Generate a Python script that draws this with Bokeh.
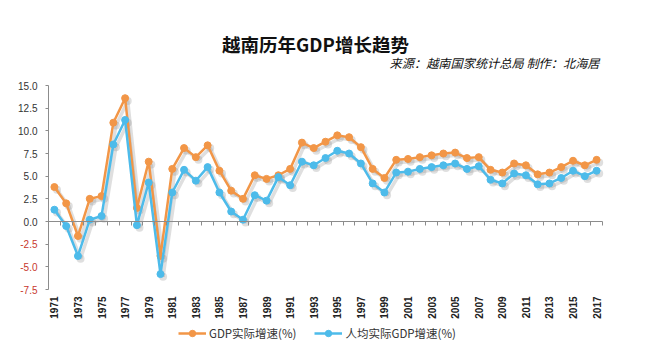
import math
from bokeh.plotting import figure
from bokeh.models import (FixedTicker, Legend, LegendItem, Label,
                          ColumnDataSource, Range1d, CustomJSTickFormatter)
from bokeh.core.properties import value
from bokeh.transform import dodge
from bokeh.embed import file_html
from bokeh.resources import INLINE

# ---------------- data ----------------
years = list(range(1971, 2018))
gdp_growth = [3.8, 2.0, -1.6, 2.5, 2.8, 10.9, 13.6, 1.5, 6.6, -3.8,
              5.8, 8.1, 7.1, 8.4, 5.6, 3.4, 2.5, 5.1, 4.7, 5.1,
              5.8, 8.7, 8.1, 8.8, 9.5, 9.3, 8.2, 5.8, 4.8, 6.8,
              6.9, 7.1, 7.3, 7.5, 7.6, 7.0, 7.1, 5.7, 5.4, 6.4,
              6.2, 5.2, 5.4, 6.0, 6.7, 6.2, 6.8]
pc_growth = [1.3, -0.5, -3.8, 0.2, 0.6, 8.5, 11.2, -0.4, 4.3, -5.8,
             3.2, 5.7, 4.5, 6.0, 3.2, 1.1, 0.2, 2.9, 2.3, 4.9,
             4.0, 6.6, 6.2, 7.0, 7.8, 7.5, 6.4, 4.2, 3.2, 5.4,
             5.5, 5.8, 6.0, 6.2, 6.4, 5.8, 6.1, 4.6, 4.2, 5.3,
             5.1, 4.1, 4.2, 4.8, 5.6, 5.0, 5.6]
y_ticks = [-7.5, -5.0, -2.5, 0.0, 2.5, 5.0, 7.5, 10.0, 12.5, 15.0]
x_label_years = years[::2]

title_text = "越南历年GDP增长趋势"
subtitle_text = "来源：越南国家统计总局 制作：北海居"
series_names = ["GDP实际增速(%)", "人均实际GDP增速(%)"]

# ---------------- layout (pixels) ----------------
W, H = 661, 356
FL, FR, FT, FB = 10, W, 0, H - 10          # frame edges on canvas
PL, PR, PT, PB = 48, 602, 85, 289          # plotting area edges on canvas

ORANGE = "#F29647"
BLUE = "#4DBBEA"
AXIS_GRAY = "#8c8c8c"
FONT_CJK = "Noto Sans CJK SC"
FONT_NUM = "Liberation Sans"

x_lo, x_hi = years[0] - 0.5, years[-1] + 0.5
y_lo, y_hi = min(y_ticks), max(y_ticks)
sx = (PR - PL) / (x_hi - x_lo)
sy = (PB - PT) / (y_hi - y_lo)


def data_x(px):
    return x_lo + (px - PL) / sx


def data_y(py):
    return y_hi - (py - PT) / sy


src = ColumnDataSource(dict(year=years, gdp=gdp_growth, pc=pc_growth))
lab_src = ColumnDataSource(dict(x=x_label_years, y=[y_lo] * len(x_label_years),
                                t=[str(y) for y in x_label_years]))

p = figure(width=W, height=H, output_backend="svg", toolbar_location=None,
           x_range=Range1d(data_x(FL), data_x(FR)),
           y_range=Range1d(data_y(FB), data_y(FT)),
           min_border_left=FL, min_border_right=W - FR,
           min_border_top=FT, min_border_bottom=H - FB)
p.outline_line_color = None
p.grid.visible = False
p.background_fill_color = "white"

blank = CustomJSTickFormatter(code="return '';")

# y axis drawn at the left edge of the plotting area
ya = p.yaxis[0]
ya.fixed_location = x_lo
ya.bounds = (y_lo, y_hi)
ya.ticker = FixedTicker(ticks=y_ticks)
ya.formatter = blank
ya.axis_line_color = AXIS_GRAY
ya.major_tick_line_color = AXIS_GRAY
ya.major_tick_out = 3
ya.major_tick_in = 0
ya.minor_tick_line_color = None
ya.major_label_text_color = None
ya.major_label_text_font_size = "1px"
ya.major_label_standoff = 0

for v in y_ticks:
    p.add_layout(Label(x=x_lo, y=v, x_offset=-11, text=f"{v:.1f}",
                       text_align="right", text_baseline="middle",
                       text_font=FONT_NUM, text_font_size="10px",
                       text_color="#C8372D" if v < 0 else "#333333"))

# zero line with category boundary ticks
xa = p.xaxis[0]
xa.fixed_location = 0
xa.bounds = (x_lo, x_hi)
xa.ticker = FixedTicker(ticks=[x_lo] + [y + 0.5 for y in years])
xa.formatter = blank
xa.axis_line_color = AXIS_GRAY
xa.major_tick_line_color = AXIS_GRAY
xa.major_tick_out = 4
xa.major_tick_in = 0
xa.minor_tick_line_color = None
xa.major_label_text_color = None
xa.major_label_text_font_size = "1px"
xa.major_label_standoff = 0

# year labels below the plotting area (rotated)
p.text(x="x", y="y", text="t", source=lab_src, angle=math.pi / 2,
       y_offset=7, text_align="right", text_baseline="middle",
       text_font=value(FONT_NUM), text_font_style="bold",
       text_font_size="10px", text_color="#222222")

# shadows
for col in ["gdp", "pc"]:
    p.line(x=dodge("year", 0.22), y=dodge(col, -0.3), source=src,
           line_color="#7f7f7f", line_alpha=0.25, line_width=3.5)
    p.scatter(x=dodge("year", 0.22), y=dodge(col, -0.3), source=src, size=8,
              fill_color="#7f7f7f", fill_alpha=0.25, line_color=None)

# series
l1 = p.line("year", "gdp", source=src, line_color=ORANGE, line_width=2.5)
s1 = p.scatter("year", "gdp", source=src, size=7, fill_color=ORANGE, line_color=ORANGE)
l2 = p.line("year", "pc", source=src, line_color=BLUE, line_width=2.5)
s2 = p.scatter("year", "pc", source=src, size=7, fill_color=BLUE, line_color=BLUE)

legend = Legend(items=[LegendItem(label=series_names[0], renderers=[l1, s1]),
                       LegendItem(label=series_names[1], renderers=[l2, s2])],
                orientation="horizontal", location=(178 - FL, FB - 341),
                border_line_color=None, background_fill_alpha=0,
                padding=0, margin=0, spacing=18, glyph_width=28,
                label_standoff=3, label_text_font=FONT_CJK,
                label_text_font_size="11.5px", label_text_color="#333333",
                label_height=16, glyph_height=16)
p.add_layout(legend, "center")

# titles
p.add_layout(Label(x=data_x(315), y=data_y(43), text=title_text,
                   text_align="center", text_baseline="middle",
                   text_font=FONT_CJK, text_font_style="bold",
                   text_font_size="18.5px", text_color="#111111"))
p.add_layout(Label(x=data_x(599), y=data_y(62), text=subtitle_text,
                   text_align="right", text_baseline="middle",
                   text_font=FONT_CJK, text_font_style="italic",
                   text_font_size="12.2px", text_color="#111111"))

open("out.html", "w").write(file_html(p, INLINE))
